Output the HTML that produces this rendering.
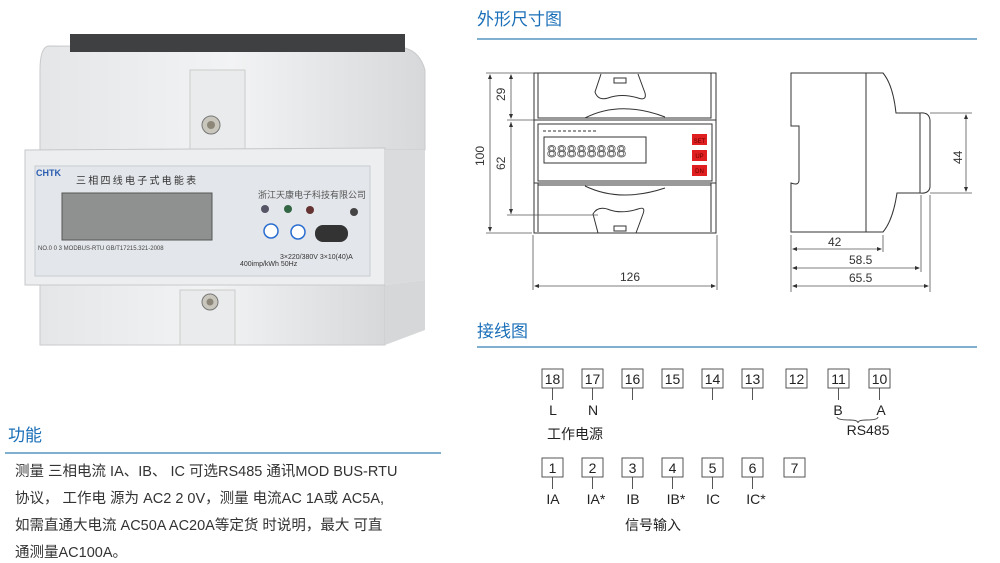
<!DOCTYPE html>
<html><head><meta charset="utf-8"><style>
body{margin:0;width:1000px;height:563px;background:#fff;position:relative;overflow:hidden;font-family:"Liberation Sans","Noto Sans CJK SC",sans-serif}
.a{position:absolute}
.h{color:#1a6fb8;font-size:17px;font-family:"Noto Sans CJK SC",sans-serif}
.t{font-size:14.5px;color:#333;white-space:nowrap;font-family:"Liberation Sans","Noto Sans CJK SC",sans-serif}
</style></head><body>
<!-- photo -->
<svg class="a" style="left:0;top:0" width="440" height="360">
<defs><linearGradient id="g1" x1="0" x2="1"><stop offset="0" stop-color="#e4e6e8"/><stop offset=".5" stop-color="#f2f3f4"/><stop offset="1" stop-color="#d6d8da"/></linearGradient></defs>
<path d="M48 46 Q40 48 40 70 L40 150 L425 150 L425 70 Q420 52 405 48 Z" fill="url(#g1)" stroke="#c8cacc"/>
<rect x="70" y="34" width="335" height="18" fill="#3e4042"/>
<rect x="190" y="70" width="55" height="85" fill="#e9ebec" stroke="#ccc"/>
<circle cx="211" cy="125" r="9" fill="#c9c6bd" stroke="#777"/><circle cx="211" cy="125" r="4" fill="#8d877a"/>
<path d="M25 150 L385 148 L385 285 L25 285 Z" fill="#eceeef" stroke="#c5c7c9"/>
<path d="M385 150 L425 150 L425 280 L385 285Z" fill="#d9dbdc"/>
<rect x="35" y="166" width="335" height="110" fill="#e3e6ea" stroke="#c9ccd0"/>
<rect x="62" y="193" width="150" height="47" fill="#8f9191" stroke="#555"/>
<text x="36" y="176" font-size="9" fill="#2a5db0" font-weight="bold">CHTK</text>
<text x="76" y="184" font-size="10" fill="#333" font-family="Noto Sans CJK SC">三 相 四 线 电 子 式 电 能 表</text>
<text x="258" y="198" font-size="9" fill="#555" font-family="Noto Sans CJK SC">浙江天康电子科技有限公司</text>
<circle cx="265" cy="209" r="4" fill="#556"/><circle cx="288" cy="209" r="4" fill="#364"/><circle cx="310" cy="210" r="4" fill="#633"/><circle cx="354" cy="212" r="4" fill="#444"/>
<circle cx="271" cy="231" r="7" fill="#fff" stroke="#2a6dd0" stroke-width="1.5"/><circle cx="298" cy="232" r="7" fill="#fff" stroke="#2a6dd0" stroke-width="1.5"/>
<rect x="315" y="225" width="33" height="17" rx="8" fill="#333"/>
<text x="38" y="250" font-size="6" fill="#444">NO.0 0 3  MODBUS-RTU     GB/T17215.321-2008</text>
<text x="280" y="259" font-size="7" fill="#333">3×220/380V  3×10(40)A</text>
<text x="240" y="266" font-size="7" fill="#333">400imp/kWh  50Hz</text>
<path d="M40 285 L385 285 L385 345 L40 345 Z" fill="url(#g1)" stroke="#c8cacc"/>
<path d="M385 285 L425 280 L425 330 L385 345Z" fill="#d5d7d8"/>
<rect x="180" y="290" width="55" height="55" fill="#e9ebec" stroke="#ccc"/>
<circle cx="210" cy="302" r="8" fill="#c9c6bd" stroke="#777"/><circle cx="210" cy="302" r="3.5" fill="#8d877a"/>
</svg>
<div class="a h" style="left:8px;top:421px">功能</div>
<div class="a" style="left:5px;top:452px;width:436px;height:2px;background:#7fb0cf"></div>
<div class="a t" style="left:15px;top:460px">测量 三相电流 IA、IB、 IC 可选RS485 通讯MOD BUS-RTU</div>
<div class="a t" style="left:15px;top:487px">协议，  工作电 源为 AC2 2 0V，测量 电流AC 1A或 AC5A,</div>
<div class="a t" style="left:15px;top:514px">如需直通大电流  AC50A  AC20A等定货 时说明，最大 可直</div>
<div class="a t" style="left:15px;top:541px">通测量AC100A。</div>

<div class="a h" style="left:477px;top:5px">外形尺寸图</div>
<div class="a" style="left:477px;top:38px;width:500px;height:2px;background:#7fb0cf"></div>
<div class="a h" style="left:477px;top:317px">接线图</div>
<div class="a" style="left:477px;top:346px;width:500px;height:2px;background:#7fb0cf"></div>

<svg class="a" style="left:460px;top:0" width="540" height="563" font-family="Liberation Sans" fill="none" stroke="#333" stroke-width="1">
<g transform="translate(-460 0)">
<rect x="534" y="73" width="182" height="160"/>
<path d="M538 73 V118 H711 V73"/><path d="M538 183 V232 M711 183 V232 M538 185 H711"/>
<rect x="538" y="124" width="174" height="57"/>
<line x1="534" y1="120" x2="716" y2="120"/><line x1="534" y1="183" x2="716" y2="183"/>
<path d="M585 118 Q620 100 665 117"/><path d="M585 186 Q620 203 665 188"/>
<path d="M601 74 L595 92 Q598 101 608 98 Q622 93 638 98 Q647 101 645 93 L638 74"/>
<path d="M598 233 L593 214 Q598 205 610 210 Q622 214 638 209 Q646 206 643 214 L636 233"/>
<rect x="614" y="78" width="12" height="5"/><rect x="614" y="226" width="12" height="5"/>
<line x1="543" y1="131" x2="597" y2="131" stroke-dasharray="3 2"/>
<rect x="544" y="137" width="102" height="26"/>
<text x="547" y="157" font-size="17" fill="none" stroke="#444" stroke-width=".7" letter-spacing="0.5">88888888</text>
<rect x="692" y="134" width="15" height="11" fill="#e02020" stroke="none"/><rect x="692" y="150" width="15" height="11" fill="#e02020" stroke="none"/><rect x="692" y="165" width="15" height="11" fill="#e02020" stroke="none"/>
<text x="699.5" y="143" font-size="6" fill="#600" stroke="none" text-anchor="middle">SET</text>
<text x="699.5" y="158" font-size="6" fill="#600" stroke="none" text-anchor="middle">UP</text>
<text x="699.5" y="173" font-size="6" fill="#600" stroke="none" text-anchor="middle">DN</text>
<g stroke="#555" stroke-width=".8">
<line x1="486" y1="73" x2="534" y2="73"/><line x1="486" y1="233" x2="532" y2="233"/>
<line x1="490" y1="75" x2="490" y2="231"/><line x1="511" y1="75" x2="511" y2="118"/><line x1="511" y1="122" x2="511" y2="214"/>
<line x1="507" y1="120" x2="534" y2="120"/><line x1="507" y1="215" x2="598" y2="215"/>
<line x1="533" y1="235" x2="533" y2="290"/><line x1="717" y1="235" x2="717" y2="290"/>
<line x1="536" y1="286" x2="715" y2="286"/>
</g>
<g fill="#333" stroke="none">
<path d="M490 74 l-2 5 h4z M490 232 l-2 -5 h4z M511 74 l-2 5 h4z M511 119 l-2 -5 h4z M511 122 l-2 5 h4z M511 214 l-2 -5 h4z M534 286 l5 -2 v4z M716 286 l-5 -2 v4z"/>
<text x="0" y="0" font-size="12" transform="translate(484 166) rotate(-90)">100</text>
<text x="0" y="0" font-size="12" transform="translate(505 101) rotate(-90)">29</text>
<text x="0" y="0" font-size="12" transform="translate(505 170) rotate(-90)">62</text>
<text x="620" y="281" font-size="12">126</text>
</g>
<!-- side -->
<path d="M920 113 H896 Q893 85 883 73 H791 V126 H799 V180 Q799 186 791 183 V232 H883 Q893 220 897 193 H920"/>
<line x1="866" y1="73" x2="866" y2="232"/>
<path d="M920 113 Q929 112 930 120 V187 Q929 194 920 193 Z"/>
<g stroke="#555" stroke-width=".8">
<line x1="930" y1="113" x2="972" y2="113"/><line x1="930" y1="193" x2="972" y2="193"/><line x1="966" y1="115" x2="966" y2="191"/>
<line x1="791" y1="235" x2="791" y2="292"/><line x1="883" y1="235" x2="883" y2="252"/><line x1="921" y1="195" x2="921" y2="272"/><line x1="930" y1="195" x2="930" y2="292"/>
<line x1="793" y1="249" x2="881" y2="249"/><line x1="793" y1="268" x2="919" y2="268"/><line x1="793" y1="286" x2="928" y2="286"/>
</g>
<g fill="#333" stroke="none">
<path d="M966 114 l-2 5 h4z M966 192 l-2 -5 h4z M792 249 l5 -2 v4z M882 249 l-5 -2 v4z M792 268 l5 -2 v4z M920 268 l-5 -2 v4z M792 286 l5 -2 v4z M929 286 l-5 -2 v4z"/>
<text x="0" y="0" font-size="12" transform="translate(962 164) rotate(-90)">44</text>
<text x="828" y="246" font-size="12">42</text>
<text x="849" y="264" font-size="12">58.5</text>
<text x="849" y="282" font-size="12">65.5</text>
</g>
<!-- wiring -->
<g stroke="#444" stroke-width=".9">
<rect x="542" y="369" width="21" height="19"/><rect x="582" y="369" width="21" height="19"/><rect x="622" y="369" width="21" height="19"/><rect x="662" y="369" width="21" height="19"/><rect x="702" y="369" width="21" height="19"/><rect x="742" y="369" width="21" height="19"/><rect x="786" y="369" width="21" height="19"/><rect x="828" y="369" width="21" height="19"/><rect x="869" y="369" width="21" height="19"/>
<line x1="552.5" y1="388" x2="552.5" y2="400"/><line x1="592.5" y1="388" x2="592.5" y2="400"/><line x1="632.5" y1="388" x2="632.5" y2="400"/><line x1="712.5" y1="388" x2="712.5" y2="400"/><line x1="752.5" y1="388" x2="752.5" y2="400"/><line x1="838.5" y1="388" x2="838.5" y2="400"/><line x1="879.5" y1="388" x2="879.5" y2="400"/>
<path d="M837 417 Q837 420 850 420 Q858 420 858 423 Q858 420 866 420 Q878 420 878 417"/>
<rect x="542" y="458" width="21" height="19"/><rect x="582" y="458" width="21" height="19"/><rect x="622" y="458" width="21" height="19"/><rect x="662" y="458" width="21" height="19"/><rect x="702" y="458" width="21" height="19"/><rect x="742" y="458" width="21" height="19"/><rect x="784" y="458" width="21" height="19"/>
<line x1="552.5" y1="477" x2="552.5" y2="489"/><line x1="592.5" y1="477" x2="592.5" y2="489"/><line x1="632.5" y1="477" x2="632.5" y2="489"/><line x1="672.5" y1="477" x2="672.5" y2="489"/><line x1="712.5" y1="477" x2="712.5" y2="489"/><line x1="752.5" y1="477" x2="752.5" y2="489"/>
</g>
<g fill="#222" stroke="none" font-size="14" text-anchor="middle">
<text x="552.5" y="384">18</text><text x="592.5" y="384">17</text><text x="632.5" y="384">16</text><text x="672.5" y="384">15</text><text x="712.5" y="384">14</text><text x="752.5" y="384">13</text><text x="796.5" y="384">12</text><text x="838.5" y="384">11</text><text x="879.5" y="384">10</text>
<text x="553" y="415">L</text><text x="593" y="415">N</text><text x="838" y="415">B</text><text x="881" y="415">A</text>
<text x="868" y="435">RS485</text>
<text x="552.5" y="473">1</text><text x="592.5" y="473">2</text><text x="632.5" y="473">3</text><text x="672.5" y="473">4</text><text x="712.5" y="473">5</text><text x="752.5" y="473">6</text><text x="794.5" y="473">7</text>
<text x="553" y="504">IA</text><text x="596" y="504">IA*</text><text x="633" y="504">IB</text><text x="676" y="504">IB*</text><text x="713" y="504">IC</text><text x="756" y="504">IC*</text>
<text x="575" y="439" font-family="Noto Sans CJK SC" font-size="14">工作电源</text>
<text x="653" y="530" font-family="Noto Sans CJK SC" font-size="14">信号输入</text>
</g>
</g>
</svg>
</body></html>
